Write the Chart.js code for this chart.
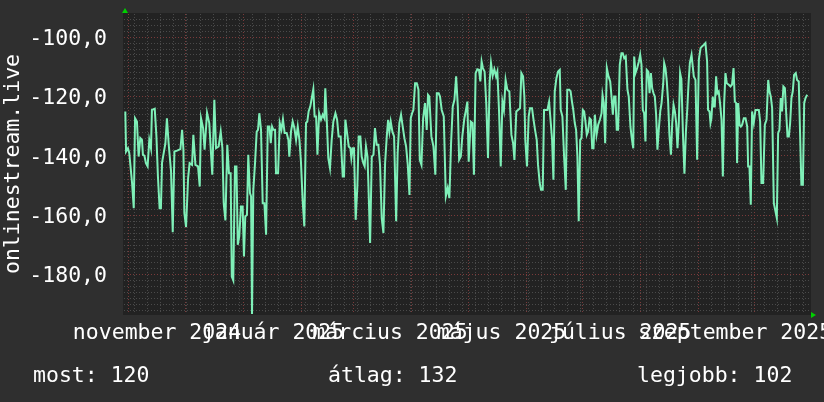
<!DOCTYPE html>
<html>
<head>
<meta charset="utf-8">
<script src="https://cdn.jsdelivr.net/npm/chart.js@4.4.1/dist/chart.umd.min.js"></script>
<style>
  html, body { margin: 0; padding: 0; background: #2f2f2f; }
  #wrap { width: 824px; height: 402px; }
</style>
</head>
<body>
<div id="wrap"><canvas id="graph" width="824" height="402"></canvas></div>
<script>
// days since 2024-10-29 (approx.), values as plotted
const days = [
  0.7, 1.1, 2.1, 2.8, 3.4, 4.3, 5.2, 5.9, 6.9, 7.8, 8.7, 9.6, 10.1, 10.9, 11.7, 12.6, 13.5, 14.4, 14.9, 16.4,
  17.3, 18.1, 19.0, 19.7, 20.3, 22.1, 22.9, 23.8, 25.1, 26.0, 26.9, 28.3, 30.1, 31.0, 31.7, 32.2, 33.1, 34.2, 35.0, 36.3,
  37.0, 38.1, 39.5, 40.4, 41.1, 42.2, 43.0, 44.3, 45.5, 46.4, 47.1, 48.2, 49.1, 50.5, 51.6, 52.5, 53.2, 54.1, 55.1, 56.0,
  56.9, 57.5, 58.3, 59.2, 60.0, 60.7, 61.5, 62.4, 63.3, 64.0, 64.7, 65.6, 66.3, 67.2, 67.8, 68.3, 69.0, 69.9, 70.8, 71.5,
  72.2, 73.1, 74.0, 74.9, 75.8, 76.7, 77.6, 78.3, 79.0, 79.7, 80.6, 81.1, 82.2, 83.1, 84.0, 84.8, 85.7, 86.8, 87.7, 88.2,
  89.1, 90.0, 90.9, 91.8, 92.7, 93.6, 94.4, 95.3, 96.2, 97.1, 97.8, 98.5, 99.4, 100.3, 101.0, 101.7, 102.5, 103.2, 104.1, 105.1,
  106.0, 106.9, 107.4, 108.1, 109.0, 109.9, 110.8, 111.7, 112.8, 113.7, 114.5, 115.6, 116.7, 117.4, 118.1, 118.8, 119.9, 120.8, 121.3, 122.0,
  122.7, 123.6, 124.5, 125.2, 126.1, 126.8, 127.7, 128.4, 129.1, 129.9, 130.4, 131.3, 132.2, 133.1, 133.9, 134.8, 135.7, 136.6, 137.5, 138.4,
  139.3, 140.2, 140.9, 141.6, 142.3, 143.2, 144.1, 145.2, 146.0, 146.9, 147.8, 148.7, 149.6, 150.5, 151.4, 152.3, 153.0, 153.7, 154.4, 155.3,
  156.2, 157.1, 157.8, 158.7, 159.6, 160.6, 161.5, 162.2, 162.9, 164.0, 165.1, 166.1, 166.9, 167.9, 168.6, 169.5, 170.6, 171.7, 172.7, 173.6,
  174.5, 175.4, 176.3, 177.2, 178.1, 178.8, 179.7, 180.5, 181.6, 182.3, 183.2, 183.9, 185.0, 185.9, 186.7, 187.6, 188.5, 189.4, 190.1, 190.8,
  191.5, 192.4, 193.3, 194.2, 195.1, 195.8, 196.7, 197.6, 198.5, 199.2, 200.1, 201.0, 201.9, 202.7, 203.6, 204.5, 205.6, 206.7, 207.6, 208.3,
  209.3, 210.2, 211.3, 212.0, 212.9, 213.6, 214.1, 215.0, 215.9, 216.6, 217.7, 218.4, 219.3, 220.2, 220.9, 221.8, 222.5, 223.4, 224.1, 225.0,
  225.9, 226.8, 227.7, 228.4, 229.1, 229.8, 230.7, 231.6, 232.5, 233.0, 233.9, 234.8, 235.7, 236.5, 237.6, 238.3, 239.0, 239.7, 240.5, 241.2,
  241.9, 242.6, 243.4, 244.1, 244.8, 245.5, 246.2, 246.9, 247.6, 248.4, 249.1, 249.8, 250.5, 251.2, 252.1, 253.0, 253.9, 254.8, 255.3, 256.0,
  256.7, 257.6, 258.5, 259.4, 260.1, 260.8, 261.5, 262.2, 262.9, 263.6, 264.5, 265.4, 266.1, 266.9, 267.7, 268.6, 269.3, 270.2, 270.9, 271.7,
  272.2, 272.9, 273.8, 274.7, 275.4, 276.1, 276.8, 277.5, 278.2, 278.9, 279.7, 280.4, 281.1, 281.8, 282.5, 283.2, 283.9, 284.6, 285.3, 286.1,
  286.8, 287.7, 288.2, 288.9, 289.6, 290.3, 291.0, 291.8, 292.5, 293.2, 293.9, 294.6, 295.3, 296.0, 296.7, 297.4, 298.2, 299.0, 299.8, 300.5,
  301.2, 301.9, 302.8, 304.0, 304.9, 305.8, 306.7, 307.6, 308.4, 309.3, 310.2, 311.1, 311.6, 312.4, 312.9, 313.4, 314.1, 314.7, 315.2, 315.9,
  316.6, 317.3, 318.0, 318.8, 319.5, 320.2, 320.9, 321.6, 322.7, 323.6, 324.4, 325.2, 325.9, 326.6, 327.1, 327.7, 328.4, 329.1, 329.8, 330.7,
  331.6, 332.5, 333.0, 333.7, 334.4, 335.1, 336.0, 336.9, 337.8, 338.7, 339.4, 340.1, 341.0, 341.9, 342.8, 343.7, 344.4, 345.1, 345.8, 346.7,
  347.6, 348.3, 349.0, 349.7, 350.4, 351.1, 351.8, 352.6, 353.3, 354.0, 354.7, 355.4, 356.1, 356.8, 357.5, 358.4, 359.1, 360.0, 360.7, 361.4,
  362.2, 362.9, 363.6, 364.5
];
const values = [
  -125.0, -138.5, -137.4, -139.0, -143.0, -149.1, -157.6, -127.3, -128.4, -140.2, -134.0, -134.6, -139.6, -139.9, -142.4, -143.5, -134.6, -137.4, -124.5, -124.1,
  -133.4, -146.9, -157.6, -157.6, -142.2, -135.7, -127.3, -135.7, -145.2, -165.7, -138.5, -138.2, -137.7, -131.2, -137.9, -159.2, -163.9, -147.5, -142.4, -143.0,
  -132.9, -143.0, -143.5, -150.3, -127.3, -130.6, -137.9, -125.4, -128.9, -139.0, -146.3, -121.1, -137.4, -136.8, -131.8, -137.4, -155.9, -161.7, -136.2, -145.8,
  -145.8, -180.6, -181.9, -143.5, -143.5, -169.9, -167.1, -157.0, -157.0, -173.8, -160.4, -159.8, -139.6, -152.5, -153.6, -193.5, -151.4, -142.4, -131.8, -131.2,
  -125.6, -131.2, -155.9, -155.9, -166.5, -130.1, -130.1, -135.7, -130.1, -131.2, -131.2, -145.8, -145.8, -128.9, -131.2, -127.6, -132.3, -132.3, -134.6, -140.2,
  -131.8, -128.4, -130.6, -134.6, -130.1, -134.6, -141.9, -154.8, -163.7, -128.9, -128.4, -125.0, -123.3, -120.0, -117.5, -126.7, -126.7, -139.6, -125.6, -127.8,
  -126.1, -127.3, -117.2, -126.7, -140.7, -144.1, -134.6, -128.4, -125.6, -127.8, -133.4, -133.4, -146.9, -146.9, -127.8, -131.2, -136.8, -137.4, -140.7, -137.4,
  -137.4, -161.5, -150.3, -133.4, -133.4, -140.2, -142.4, -143.5, -136.8, -140.2, -149.7, -169.3, -140.2, -139.6, -130.6, -136.2, -136.2, -143.0, -160.9, -165.9,
  -142.4, -133.4, -127.8, -131.8, -128.4, -131.8, -133.4, -162.0, -139.0, -128.9, -126.1, -130.1, -134.0, -136.8, -143.0, -153.1, -127.3, -125.6, -124.5, -115.5,
  -115.5, -117.7, -141.3, -143.0, -127.3, -122.2, -131.2, -119.4, -120.0, -133.4, -136.8, -146.3, -118.9, -118.9, -120.0, -124.5, -126.7, -153.6, -150.8, -154.2,
  -135.7, -123.3, -121.1, -113.2, -123.3, -141.3, -140.2, -133.4, -127.3, -125.0, -121.7, -141.9, -128.4, -128.9, -146.3, -112.1, -110.8, -111.0, -114.9, -108.2,
  -110.4, -111.6, -122.8, -140.7, -114.9, -108.7, -113.0, -110.8, -113.2, -111.6, -125.0, -143.5, -121.7, -124.5, -114.4, -117.7, -118.3, -132.9, -135.7, -141.3,
  -125.0, -124.5, -123.9, -112.1, -113.2, -120.0, -134.6, -143.5, -126.7, -123.9, -123.9, -127.3, -131.2, -134.6, -143.0, -149.1, -151.4, -151.4, -124.5, -124.5,
  -124.5, -121.7, -128.9, -134.6, -148.0, -118.3, -113.8, -111.6, -111.0, -124.5, -126.7, -140.2, -151.4, -117.7, -117.7, -118.3, -121.7, -124.5, -128.9, -131.2,
  -140.2, -162.0, -134.6, -134.0, -124.5, -125.0, -128.4, -132.9, -131.8, -127.3, -127.8, -137.4, -137.4, -126.1, -132.9, -129.5, -127.8, -125.6, -119.4, -122.2,
  -135.7, -110.4, -113.2, -114.9, -120.0, -126.1, -120.0, -120.0, -131.2, -131.2, -109.3, -105.4, -105.4, -107.1, -106.5, -117.7, -120.0, -130.1, -134.0, -137.4,
  -106.5, -112.1, -110.4, -108.2, -105.9, -109.3, -124.5, -125.6, -135.1, -111.0, -111.6, -118.9, -112.1, -117.2, -118.9, -120.0, -126.1, -137.9, -131.2, -125.0,
  -122.2, -115.5, -108.7, -110.4, -114.9, -121.7, -132.9, -139.6, -128.9, -122.8, -125.0, -128.9, -137.4, -128.9, -112.1, -114.4, -132.3, -146.0, -131.8, -124.5,
  -115.5, -108.7, -106.0, -113.2, -114.4, -141.3, -107.6, -103.7, -103.1, -102.6, -102.0, -108.2, -124.5, -125.0, -128.9, -127.3, -120.0, -123.3, -123.3, -113.2,
  -118.9, -118.3, -122.2, -127.8, -146.9, -122.2, -112.1, -115.5, -116.0, -116.6, -116.0, -110.4, -121.7, -122.2, -142.4, -122.2, -129.5, -130.1, -129.5, -127.3,
  -127.3, -130.1, -143.5, -143.5, -156.4, -125.0, -128.9, -124.5, -124.5, -124.5, -128.4, -149.1, -149.1, -129.5, -127.8, -114.4, -118.3, -120.0, -123.9, -155.9,
  -158.7, -160.9, -132.3, -131.2, -120.5, -125.0, -116.6, -117.2, -125.6, -133.4, -133.4, -128.9, -120.5, -118.3, -112.7, -112.1, -114.4, -114.9, -132.3, -149.7,
  -149.7, -122.2, -120.5, -119.4
];

const nov1 = 2.6;                 // day of 2024-11-01 on the axis
const monthOffsets = [0, 30, 61, 92, 120, 151, 181, 212, 242, 273, 304, 334];
const firstMonday = 3;            // 2024-11-04
const labelDays = [17.6, 79.5, 141.9, 201.4, 264.7, 326.0];
const labelTexts = ["november 2024", "január 2025", "március 2025", "május 2025", "július 2025", "szeptember 2025"];
const statNames = ["most", "átlag", "legjobb"];
const statValues = [120, 132, 102];
const seriesName = "onlinestream.live";

const FONT = "DejaVu Sans Mono";
const minorColor = "#4a4a4a";
const majorColor = "#7a3a3a";

function buildXTicks() {
  const t = [];
  for (let d = nov1 + firstMonday; d < 366; d += 7) t.push({ value: d, kind: "minor" });
  monthOffsets.forEach(m => t.push({ value: nov1 + m, kind: "major" }));
  labelDays.forEach((d, i) => t.push({ value: d, kind: "label", text: labelTexts[i] }));
  return t.sort((a, b) => a.value - b.value);
}

const backdrop = {
  id: "backdrop",
  beforeDraw(chart) {
    const { ctx, chartArea: a } = chart;
    ctx.save();
    ctx.fillStyle = "#2f2f2f";
    ctx.fillRect(0, 0, chart.width, chart.height);
    ctx.fillStyle = "#222222";
    ctx.fillRect(a.left - 1, a.top - 1, a.right - a.left + 2, a.bottom - a.top + 2);
    ctx.restore();
  },
  afterDraw(chart) {
    const { ctx, chartArea: a } = chart;
    ctx.save();
    // arrows
    ctx.fillStyle = "#00d000";
    ctx.beginPath();
    ctx.moveTo(a.left + 1, a.top - 6);
    ctx.lineTo(a.left - 2, a.top - 1);
    ctx.lineTo(a.left + 4, a.top - 1);
    ctx.fill();
    ctx.beginPath();
    ctx.moveTo(a.right + 6, a.bottom + 1);
    ctx.lineTo(a.right + 1, a.bottom - 2);
    ctx.lineTo(a.right + 1, a.bottom + 4);
    ctx.fill();
    // footer
    ctx.font = "21.5px '" + FONT + "'";
    ctx.fillStyle = "#ffffff";
    ctx.textBaseline = "alphabetic";
    const xs = [33, 328, 637];
    statNames.forEach((n, i) => ctx.fillText(n + ": " + statValues[i], xs[i], 382));
    ctx.restore();
  }
};

new Chart(document.getElementById("graph").getContext("2d"), {
  type: "line",
  data: {
    datasets: [{
      label: seriesName,
      data: days.map((d, i) => ({ x: d, y: values[i] })),
      borderColor: "#7ff0b8",
      borderWidth: 2,
      pointRadius: 0,
      tension: 0,
      fill: false
    }]
  },
  options: {
    responsive: false,
    animation: false,
    devicePixelRatio: 1,
    layout: { padding: { top: 14, right: 14, bottom: 0, left: 0 } },
    plugins: { legend: { display: false }, tooltip: { enabled: false } },
    scales: {
      x: {
        type: "linear",
        min: 0,
        max: 366,
        afterBuildTicks: s => { s.ticks = buildXTicks(); },
        afterFit: s => { s.height = 88; s.paddingLeft = 0; s.paddingRight = 0; },
        ticks: {
          autoSkip: false,
          maxRotation: 0,
          minRotation: 0,
          padding: 7,
          color: "#ffffff",
          font: { family: FONT, size: 21.5 },
          callback: (v, i, t) => t[i].text || ""
        },
        grid: {
          drawTicks: false,
          color: c => c.tick && c.tick.kind === "major" ? majorColor : (c.tick && c.tick.kind === "minor" ? minorColor : "rgba(0,0,0,0)")
        },
        border: { display: false, dash: [1, 2] }
      },
      y: {
        min: -193.2,
        max: -92.2,
        afterBuildTicks: s => {
          const t = [];
          for (let v = -192; v <= -94; v += 2) t.push({ value: v });
          s.ticks = t;
        },
        afterFit: s => { s.width = 124; s.paddingTop = 0; s.paddingBottom = 0; },
        ticks: {
          autoSkip: false,
          padding: 17,
          labelOffset: 2,
          color: "#ffffff",
          font: { family: FONT, size: 21.5 },
          callback: v => (v % 20 === 0 ? v.toFixed(1).replace(".", ",") : "")
        },
        grid: {
          drawTicks: false,
          color: c => (c.tick && c.tick.value % 20 === 0 ? majorColor : minorColor)
        },
        border: { display: false, dash: [1, 2] },
        title: {
          display: true,
          text: seriesName,
          color: "#ffffff",
          font: { family: FONT, size: 21.5 },
          padding: { top: 1, bottom: 0 }
        }
      }
    }
  },
  plugins: [backdrop]
});
</script>
</body>
</html>
